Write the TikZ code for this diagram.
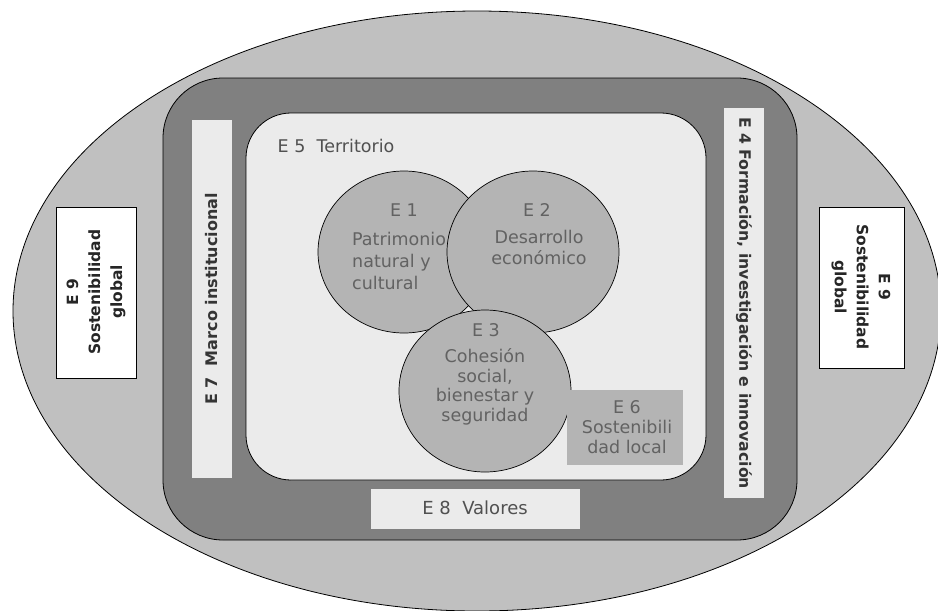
\documentclass[tikz,border=0pt]{standalone}
\usepackage{fontspec}
\setmainfont{DejaVu Sans}
\usetikzlibrary{shapes.geometric}
\definecolor{outerg}{HTML}{C0C0C0}
\definecolor{darkg}{HTML}{808080}
\definecolor{lightg}{HTML}{EBEBEB}
\definecolor{circg}{HTML}{B4B4B4}
\definecolor{txtg}{HTML}{626262}
\definecolor{txtd}{HTML}{505050}
\definecolor{txtb}{HTML}{353535}
\begin{document}
\begin{tikzpicture}[x=1pt,y=-1pt,
  region/.style={draw=black, line width=0.8pt, inner sep=0pt},
  bar/.style={fill=lightg, draw=none, inner sep=0pt},
  circ/.style={ellipse, draw=black, fill=circg, minimum width=172pt, minimum height=162pt, inner sep=0pt, line width=0.7pt},
  lbl/.style={text=txtg, font=\fontsize{17.5}{22}\selectfont, inner sep=0pt, align=center},
  blbl/.style={text=txtb, font=\bfseries\fontsize{16}{22}\selectfont, inner sep=0pt, align=center},
  globalbox/.style={draw=black, fill=white, line width=0.8pt, inner sep=0pt}
]
\useasboundingbox (0,0) rectangle (938,611);
\fill[white] (0,0) rectangle (938,611);

% E9 outer ellipse
\node[ellipse, region, fill=outerg, minimum width=928pt, minimum height=600pt] (outer) at (477,311) {};

% dark frame
\node[region, rounded corners=60pt, fill=darkg, minimum width=634pt, minimum height=462pt] (frame) at (480,309) {};

% E5 territory
\node[region, rounded corners=45pt, fill=lightg, minimum width=460pt, minimum height=367pt] (terr) at (476,296.5) {};
\node[lbl, text=txtd] (terrlbl) at (336,146) {E 5\ \ Territorio};

% bars
\node[bar, minimum width=40pt, minimum height=358pt] (e7) at (212,299) {};
\node[blbl, rotate=90] (e7lbl) at (212,299) {E 7\ \ Marco institucional};
\node[bar, minimum width=40pt, minimum height=390pt] (e4) at (744,303) {};
\node[blbl, rotate=-90, font=\bfseries\fontsize{15.7}{22}\selectfont] (e4lbl) at (744,303) {E 4 Formación, investigación e innovación};
\node[bar, minimum width=209pt, minimum height=40pt] (e8) at (475.5,509) {};
\node[lbl, text=txtd, font=\fontsize{18}{22}\selectfont] (e8lbl) at (475,508) {E 8\ \ Valores};

% E9 boxes
\node[globalbox, minimum width=80pt, minimum height=171pt] (e9l) at (96,292.5) {};
\node[blbl, rotate=90, text=black!85, font=\bfseries\fontsize{15.5}{22}\selectfont] (e9llbl) at (96,292) {E 9\\Sostenibilidad\\global};
\node[globalbox, minimum width=85pt, minimum height=161pt] (e9r) at (861.5,287.5) {};
\node[blbl, rotate=-90, text=black!85, font=\bfseries\fontsize{15.5}{22}\selectfont] (e9rlbl) at (861,287) {E 9\\Sostenibilidad\\global};

% E1
\node[circ] (e1) at (404,252) {};
\node[lbl] (e1h) at (404,210) {E 1};
\node[lbl, anchor=west, align=left] (e1t) at (352,261) {Patrimonio\\natural y\\cultural};

% E2
\node[circ] (e2) at (533,252) {};
\node[lbl] (e2h) at (537,210) {E 2};
\node[lbl, font=\fontsize{17.5}{21}\selectfont] (e2t) at (539,247) {Desarrollo\\económico};

% E3
\node[circ] (e3) at (485,391) {};
\node[lbl] (e3h) at (486,330) {E 3};
\node[lbl, font=\fontsize{17.5}{19.5}\selectfont] (e3t) at (485,387) {Cohesión\\social,\\bienestar y\\seguridad};

% E6
\node[fill=circg, draw=none, minimum width=116pt, minimum height=75pt, inner sep=0pt] (e6) at (625,427.5) {};
\node[lbl, font=\fontsize{17.5}{20}\selectfont] (e6t) at (627,427) {E 6\\Sostenibili\\dad local};
\end{tikzpicture}
\end{document}
